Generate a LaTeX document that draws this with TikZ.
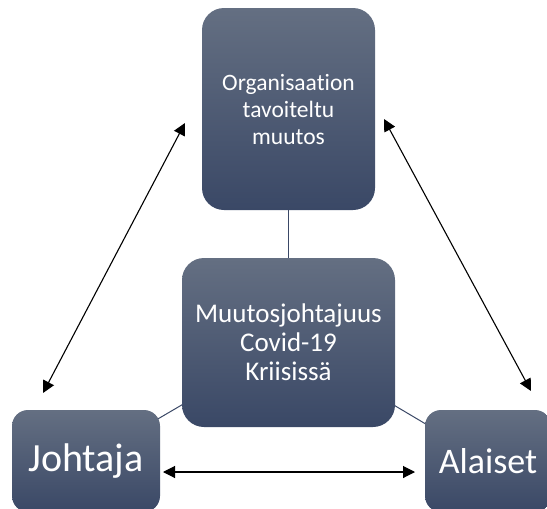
\documentclass[tikz,border=0pt]{standalone}
\usepackage{fontspec}
\setmainfont{Carlito}[Ligatures=NoCommon]
\usetikzlibrary{arrows.meta,backgrounds}
\definecolor{boxtop}{RGB}{100,111,130}
\definecolor{boxbot}{RGB}{58,72,102}
\definecolor{linkc}{RGB}{58,72,102}
\tikzset{
  boxnode/.style={rounded corners=#1, top color=boxtop, bottom color=boxbot, draw=none,
    text=white, align=center, inner sep=0pt},
  link/.style={draw=linkc, line width=1pt},
  dblarrow/.style={line width=1.1pt, {Triangle[length=12pt,width=12pt]}-{Triangle[length=12pt,width=12pt]}}
}
\begin{document}
\begin{tikzpicture}[x=1pt,y=-1pt]
\useasboundingbox (0,0) rectangle (547,509);
\begin{scope}
\clip (0,0) rectangle (547,509);
\node[boxnode=22pt, minimum width=173pt, minimum height=202pt,
  font=\fontsize{23.5}{27}\selectfont] (org) at (288.5,109) {Organisaation\\tavoiteltu\\muutos};
\node[boxnode=22pt, minimum width=213pt, minimum height=169pt,
  font=\fontsize{27}{29}\selectfont] (muu) at (288.5,342.5) {Muutosjohtajuus\\Covid-19\\Kriisissä};
\node[boxnode=16pt, minimum width=148pt, minimum height=102pt,
  font=\fontsize{40}{42}\selectfont] (joh) at (86,461) {Johtaja};
\node[boxnode=16pt, minimum width=126pt, minimum height=102pt,
  font=\fontsize{36}{40}\selectfont] (ala) at (488,461) {Alaiset};
\begin{scope}[on background layer]
\draw[link] (org.center) -- (muu.center);
\draw[link] (muu.center) -- (joh.center);
\draw[link] (muu.center) -- (ala.center);
\end{scope}
\end{scope}
\coordinate (a1) at (185,123);
\coordinate (a2) at (43,393);
\coordinate (b1) at (384,119);
\coordinate (b2) at (531,391);
\coordinate (c1) at (163,472);
\coordinate (c2) at (415,472);
\draw[dblarrow] (a1) -- (a2);
\draw[dblarrow] (b1) -- (b2);
\draw[dblarrow] (c1) -- (c2);
\end{tikzpicture}
\end{document}
